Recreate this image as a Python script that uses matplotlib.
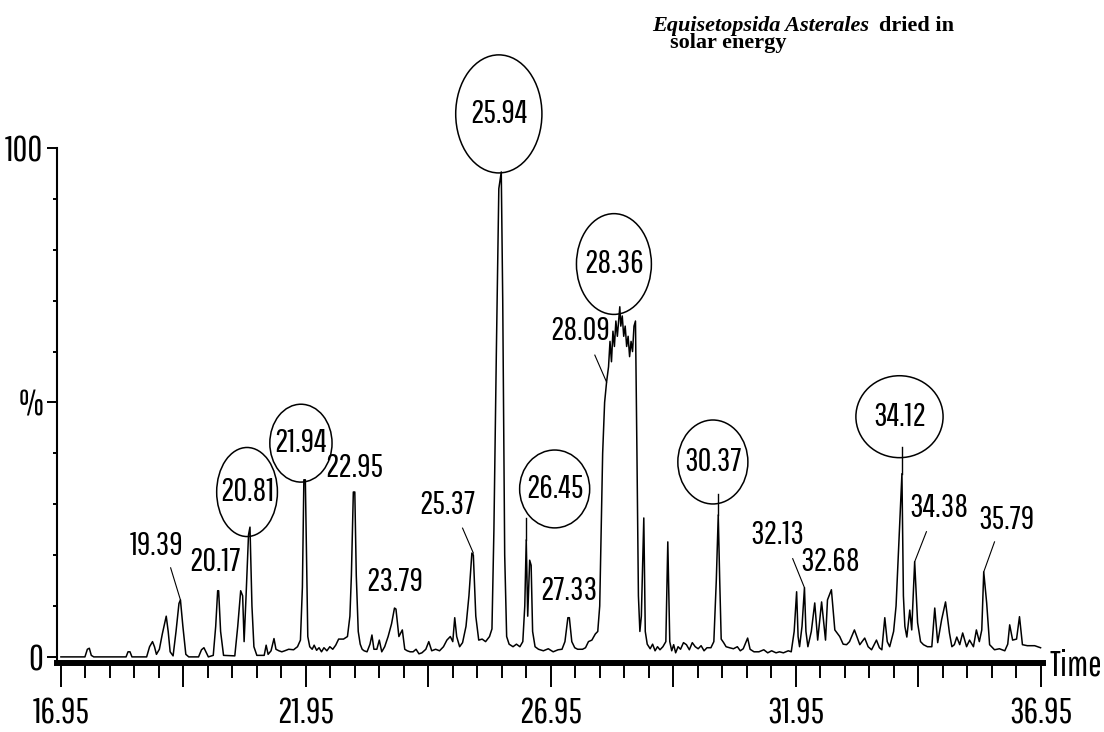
import numpy as np
import matplotlib.pyplot as plt
from matplotlib.patches import Ellipse
from matplotlib.ticker import FixedLocator, MultipleLocator

# cromatograma TIC: tiempo de retencion (min) y abundancia relativa (%)
tiempo = [16.95, 17.44, 17.49, 17.53, 17.57, 17.62, 18.28, 18.32, 18.36, 18.40,
          18.70, 18.76, 18.82, 18.86, 18.90, 18.96, 19.02, 19.10, 19.14, 19.18,
          19.24, 19.30, 19.36, 19.39, 19.44, 19.50, 19.56,
          19.76, 19.82, 19.87, 19.92, 19.96, 20.06, 20.11, 20.15, 20.17, 20.21,
          20.27, 20.50, 20.56, 20.62, 20.66, 20.69, 20.73, 20.78, 20.81, 20.85,
          20.89, 20.95, 21.10, 21.14, 21.18, 21.24, 21.30, 21.34, 21.40, 21.46,
          21.52, 21.60, 21.70, 21.78, 21.84, 21.88, 21.91, 21.94, 21.99, 22.03,
          22.08, 22.12, 22.17, 22.22, 22.27, 22.32, 22.38, 22.44, 22.50, 22.56,
          22.62, 22.72, 22.80, 22.85, 22.88, 22.92, 22.95, 22.98, 23.02, 23.06,
          23.10, 23.14, 23.20, 23.26, 23.30, 23.34, 23.40, 23.45, 23.50, 23.56,
          23.63, 23.70, 23.76, 23.79, 23.85, 23.92, 23.97, 24.02, 24.08, 24.14,
          24.20, 24.26, 24.32, 24.40, 24.46, 24.52, 24.60, 24.68, 24.76, 24.83,
          24.90, 24.95, 24.99, 25.03, 25.09, 25.15, 25.22, 25.28, 25.34, 25.37,
          25.42, 25.48, 25.55, 25.62, 25.70, 25.75, 25.79, 25.84, 25.89, 25.94,
          25.97, 26.01, 26.05, 26.10, 26.18, 26.25, 26.32, 26.38, 26.42, 26.45,
          26.48, 26.52, 26.55, 26.58, 26.63, 26.70, 26.80, 26.90, 27.00, 27.10,
          27.18, 27.24, 27.30, 27.33, 27.38, 27.44, 27.50, 27.60, 27.66, 27.72,
          27.79, 27.86, 27.91, 27.95, 27.98, 28.01, 28.05, 28.09, 28.13, 28.16,
          28.19, 28.22, 28.25, 28.28, 28.31, 28.36, 28.38, 28.41, 28.44, 28.47,
          28.50, 28.53, 28.56, 28.59, 28.62, 28.65, 28.68, 28.71, 28.74, 28.77,
          28.80, 28.85, 28.88, 28.92, 28.98, 29.03, 29.08, 29.13, 29.18, 29.24,
          29.30, 29.34, 29.38, 29.42, 29.46, 29.50, 29.55, 29.60, 29.66, 29.72,
          29.78, 29.84, 29.90, 29.96, 30.02, 30.08, 30.14, 30.22, 30.28, 30.33,
          30.37, 30.40, 30.43, 30.48, 30.53, 30.60, 30.68, 30.76, 30.82, 30.88,
          30.97, 31.02, 31.10, 31.20, 31.30, 31.38, 31.46, 31.55, 31.62, 31.70,
          31.80, 31.86, 31.92, 31.97, 32.00, 32.03, 32.08, 32.13, 32.16, 32.20,
          32.27, 32.34, 32.40, 32.48, 32.56, 32.60, 32.68, 32.75, 32.85, 32.92,
          32.99, 33.05, 33.15, 33.26, 33.36, 33.43, 33.50, 33.60, 33.66, 33.71,
          33.77, 33.82, 33.87, 33.95, 34.00, 34.05, 34.09, 34.12, 34.15, 34.18,
          34.22, 34.28, 34.32, 34.38, 34.44, 34.50, 34.56, 34.64, 34.73, 34.79,
          34.85, 34.93, 35.01, 35.09, 35.14, 35.19, 35.24, 35.30, 35.36, 35.44,
          35.50, 35.58, 35.64, 35.70, 35.75, 35.79, 35.85, 35.91, 36.01, 36.11,
          36.22, 36.28, 36.32, 36.38, 36.46, 36.52, 36.58, 36.68, 36.83, 36.95]
abundancia = [0, 0, 1.5, 1.7, 0.3, 0, 0, 1.0, 1.0, 0,
              0, 2.0, 3.0, 2.0, 0.5, 1.5, 4.5, 8.0, 5.0, 1.0,
              0.2, 5.0, 10.5, 11.2, 6.0, 0.5, 0,
              0, 1.4, 1.8, 0.8, 0, 0.3, 6.0, 13.0, 13.0, 5.0,
              0.3, 0.2, 6.0, 13.0, 12.0, 3.0, 12.0, 24.0, 25.5, 10.0,
              2.0, 0.3, 0.3, 2.3, 0.5, 1.2, 3.6, 1.5, 1.2, 1.0,
              1.2, 1.5, 1.4, 2.0, 3.3, 13.7, 34.8, 34.8, 4.0, 2.0,
              1.5, 2.3, 1.3, 1.8, 1.0, 1.8, 1.2, 2.0, 1.5, 2.3,
              3.5, 3.5, 4.0, 8.0, 16.0, 32.4, 32.4, 16.0, 5.0, 2.5,
              1.5, 1.2, 1.0, 2.5, 4.3, 1.5, 1.5, 3.3, 1.0, 2.0,
              4.0, 6.5, 9.6, 9.4, 4.0, 5.3, 1.5, 1.2, 1.0, 1.0,
              1.5, 0.6, 0.8, 1.5, 3.0, 1.2, 1.5, 1.2, 2.0, 3.3,
              4.0, 3.0, 7.7, 4.0, 2.0, 2.8, 6.0, 12.0, 20.4, 20.0,
              8.0, 3.3, 3.5, 3.0, 4.0, 5.5, 25.0, 60.0, 92.0, 95.3,
              70.0, 20.0, 4.0, 2.5, 2.0, 2.5, 2.0, 3.0, 10.0, 23.0,
              8.0, 19.0, 18.0, 5.0, 2.0, 1.5, 1.2, 1.6, 1.0, 1.4,
              1.5, 3.0, 7.7, 7.7, 3.0, 1.8, 1.5, 1.5, 1.8, 3.0,
              3.3, 4.5, 5.0, 10.0, 25.0, 40.0, 50.0, 54.0, 57.0, 62.0,
              58.0, 64.0, 61.0, 66.0, 63.0, 68.8, 65.0, 67.0, 63.0, 65.0,
              61.0, 63.0, 59.0, 62.0, 60.0, 65.0, 66.0, 40.0, 12.0, 5.0,
              8.0, 27.3, 5.0, 2.5, 1.6, 2.5, 1.2, 2.0, 1.4, 2.0,
              3.0, 22.6, 3.0, 1.2, 2.4, 0.8, 2.0, 1.5, 2.8, 2.4,
              1.4, 2.8, 2.0, 1.6, 2.2, 1.2, 1.8, 1.8, 3.0, 15.0,
              27.9, 15.0, 3.5, 2.8, 2.0, 1.8, 1.6, 2.0, 1.2, 1.6,
              3.7, 1.5, 1.0, 1.0, 1.4, 0.8, 1.2, 0.8, 1.0, 0.8,
              1.2, 1.0, 5.0, 12.8, 4.0, 2.0, 6.0, 13.6, 5.0, 2.0,
              5.0, 10.6, 3.3, 10.8, 3.3, 11.2, 13.2, 5.3, 4.0, 2.5,
              2.4, 3.0, 5.3, 2.4, 3.7, 2.0, 1.4, 3.3, 1.8, 1.4,
              7.7, 3.0, 2.0, 5.0, 10.0, 21.0, 30.0, 36.0, 12.0, 6.0,
              3.9, 9.2, 5.3, 18.7, 6.7, 3.0, 2.4, 2.0, 2.0, 9.6,
              2.8, 7.3, 10.8, 4.7, 2.0, 2.4, 3.9, 2.4, 4.7, 2.0,
              3.3, 2.0, 5.3, 3.0, 5.3, 16.7, 10.6, 2.4, 1.4, 1.6,
              1.2, 2.5, 6.3, 3.3, 3.5, 7.9, 2.4, 2.2, 2.2, 1.8]

# picos encerrados en ovalo
picos_circ = [20.81, 21.94, 25.94, 26.45, 28.36, 30.37, 34.12]
alt_circ = [25.5, 34.8, 95.3, 23.0, 68.8, 27.9, 36.0]
# picos con etiqueta simple
picos_lab = [19.39, 20.17, 22.95, 23.79, 25.37, 27.33, 28.09, 32.13, 32.68, 34.38, 35.79]
alt_lab = [11.2, 13.0, 32.4, 9.6, 20.4, 7.7, 54.0, 13.6, 13.2, 18.7, 16.7]

# centro y tamano de cada ovalo (min, %)
ovalos = [(20.75, 32.4, 1.24, 17.5), (21.85, 42.0, 1.27, 15.3), (25.89, 106.7, 1.76, 23.2),
          (27.03, 33.0, 1.43, 15.3), (28.24, 77.2, 1.53, 19.8), (30.26, 38.3, 1.43, 16.5),
          (34.07, 47.2, 1.78, 16.1)]
# posicion del texto de las etiquetas simples
pos_lab = [(18.91, 21.8), (20.09, 18.7), (22.95, 37.1), (23.77, 14.7), (24.83, 29.9),
           (27.32, 13.0), (27.56, 64.0), (31.58, 24.0), (32.66, 18.7), (34.87, 29.3),
           (36.26, 26.9)]
# inicio de la linea guia (None = sin linea)
guia = [(19.19, 17.5), None, None, None, (25.15, 25.3), None, (27.85, 59.3),
        (31.89, 19.3), None, (34.62, 24.6), (36.01, 22.6)]

narrow = ['Pathway Gothic One', 'Roboto Condensed', 'Liberation Sans', 'DejaVu Sans']
serif = ['Liberation Serif', 'DejaVu Serif']
tam = 24

fig = plt.figure(figsize=(11.04, 7.32), dpi=100)
ax = fig.add_axes([57/1104, 69/732, 986/1104, 515/732])

ax.plot(tiempo, abundancia, color='black', lw=1.1, clip_on=False)

for rt, h, (cx, cy, w, hh) in zip(picos_circ, alt_circ, ovalos):
    ax.add_patch(Ellipse((cx, cy), w, hh, fill=False, ec='black', lw=1.1, clip_on=False))
    ax.text(cx, cy, f'{rt:.2f}', ha='center', va='center', family=narrow, fontsize=tam, clip_on=False)
    fondo = cy - hh / 2
    if h < fondo:
        ax.plot([rt, rt], [h, fondo + 2], color='black', lw=1.0, clip_on=False)

for rt, h, (tx, ty), g in zip(picos_lab, alt_lab, pos_lab, guia):
    ax.text(tx, ty, f'{rt:.2f}', ha='center', va='center', family=narrow, fontsize=tam)
    if g is not None:
        ax.plot([g[0], rt], [g[1], h], color='black', lw=0.8)

ax.set_xlim(16.87, 37.0)
ax.set_ylim(-1.2, 100)

for lado in ['top', 'right']:
    ax.spines[lado].set_visible(False)
ax.spines['bottom'].set_linewidth(4.3)
ax.spines['left'].set_linewidth(1.5)

marcas_x = [16.95, 19.45, 21.95, 24.45, 26.95, 29.45, 31.95, 34.45, 36.95]
ax.xaxis.set_major_locator(FixedLocator(marcas_x))
ax.set_xticklabels([f'{m:.2f}' if i % 2 == 0 else '' for i, m in enumerate(marcas_x)])
ax.xaxis.set_minor_locator(FixedLocator(np.arange(16.95, 36.96, 0.5)))
ax.tick_params(axis='x', which='major', length=17, width=1.4, pad=7)
ax.tick_params(axis='x', which='minor', length=11, width=1.4)

ax.yaxis.set_major_locator(FixedLocator([0, 50, 100]))
ax.set_yticklabels(['0', '%', '100'])
ax.yaxis.set_minor_locator(MultipleLocator(10))
ax.tick_params(axis='y', which='major', length=7, width=1.4, pad=3)
ax.tick_params(axis='y', which='minor', length=3, width=1.4)

for lab in ax.get_xticklabels() + ax.get_yticklabels():
    lab.set_family(narrow)
    lab.set_fontsize(26)

ax.text(1.0335, -0.004, 'Time', transform=ax.transAxes, ha='center', va='center',
        family=narrow, fontsize=26)

# titulo: nombre en cursiva y el resto a continuacion
t1 = fig.text(652/1104, 1 - 31/732, 'Equisetopsida Asterales', family=serif, style='italic',
              weight='bold', fontsize=16, va='baseline')
fig.canvas.draw()
fin = t1.get_window_extent().x1
fig.text((fin + 10) / 1104, 1 - 31/732, 'dried in', family=serif, weight='bold', fontsize=16,
         va='baseline')
fig.text(670/1104, 1 - 48/732, 'solar energy', family=serif, weight='bold', fontsize=16, va='baseline')

fig.savefig('out.png', dpi=100)
